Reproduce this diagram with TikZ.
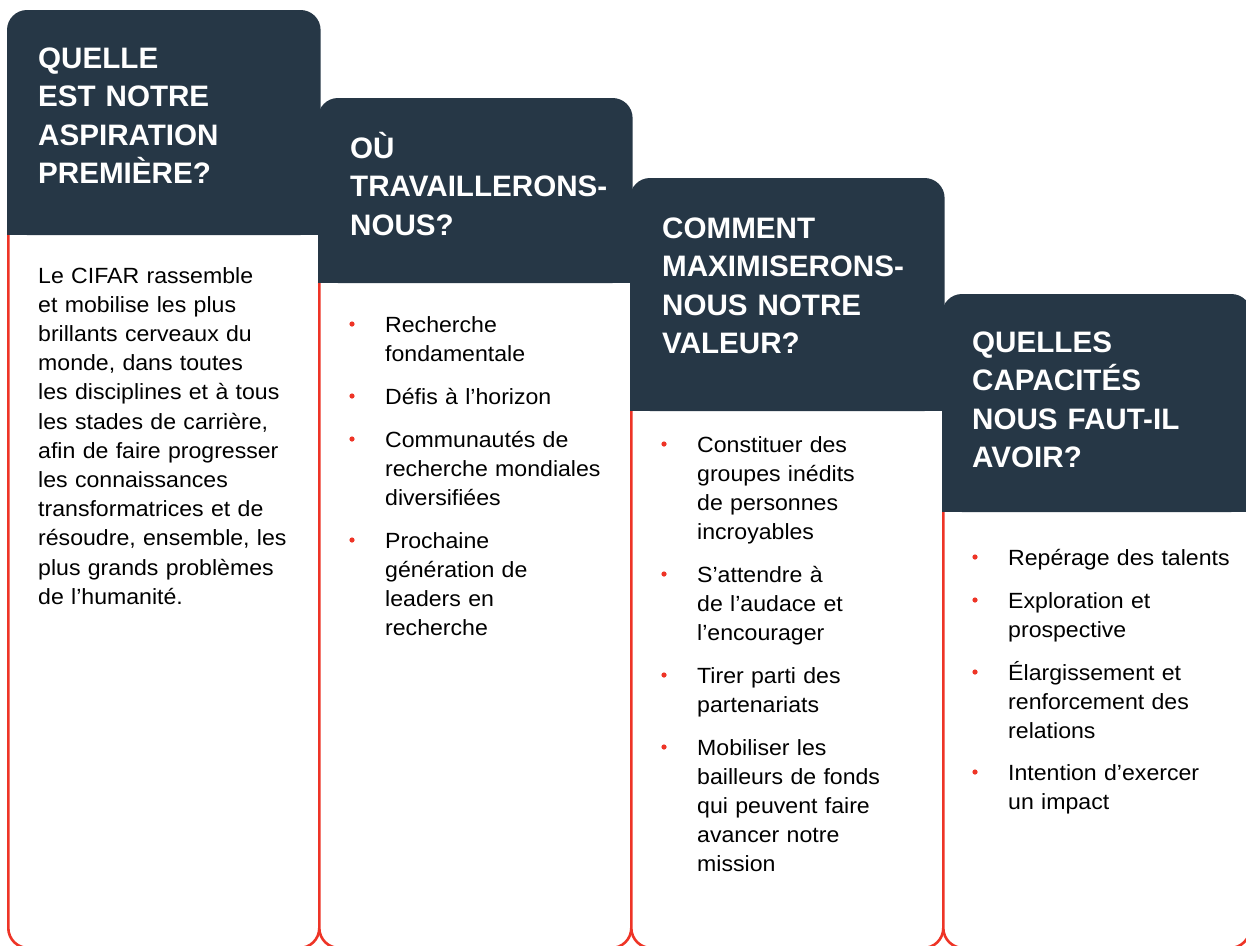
\documentclass[tikz,border=0pt]{standalone}
\usepackage{fontspec}
\setmainfont{Liberation Sans}
\newfontfamily\bodyfont[FakeStretch=1.05]{Liberation Sans}
\definecolor{cifarnavy}{HTML}{263746}
\definecolor{cifarred}{HTML}{EE3426}
\tikzset{
  colbox/.style={draw=cifarred, line width=2.6pt, fill=white, rounded corners=20pt},
  colhead/.style={fill=cifarnavy},
  headtext/.style={anchor=base west, inner sep=0pt, text=white, text width=285pt, align=left,
    font=\fontsize{29.6}{38.6}\selectfont\bfseries},
  bodytext/.style={anchor=base west, inner sep=0pt, text=black, text width=270pt, align=left,
    font=\bodyfont\fontsize{22}{29.2}\selectfont},
}
\begin{document}
\begin{tikzpicture}[x=1pt, y=-1pt]
  \clip (0,0) rectangle (1246,945);
  % four columns, each one lower than the last
  \foreach \n/\l/\r/\t/\h in {1/8.3/319.3/10/235, 2/319.3/631.3/98/283,
                              3/631.3/943.3/178/411, 4/943.3/1250/294/512} {
    \draw[colbox] (\l,\h) -- (\l,948) -- (\r,948) -- (\r,\h);
    \fill[colhead, rounded corners=20pt] (\l-1.3,\t) rectangle (\r+1.3,\h);
    \fill[colhead] (\l-1.3,\h-30) rectangle (\r+1.3,\h);
  };
  % headings
  \node[headtext] (h1) at (38,68) {QUELLE\\EST NOTRE\\ASPIRATION\\PREMIÈRE?};
  \node[headtext] (h2) at (350,158) {OÙ\\TRAVAILLERONS-\\NOUS?};
  \node[headtext] (h3) at (662,238) {COMMENT\\MAXIMISERONS-\\NOUS NOTRE\\VALEUR?};
  \node[headtext] (h4) at (972,352) {QUELLES\\CAPACITÉS\\NOUS FAUT-IL\\AVOIR?};
  % first column: one paragraph
  \node[bodytext] (c1) at (38,283) {Le CIFAR rassemble\\et mobilise les plus\\brillants cerveaux du\\monde, dans toutes\\les disciplines et à tous\\les stades de carrière,\\afin de faire progresser\\les connaissances\\transformatrices et de\\résoudre, ensemble, les\\plus grands problèmes\\de l’humanité.};
  % other columns: bullet lists
  \foreach \y/\txt [count=\k] in {332/{Recherche\\fondamentale}, 404/{Défis à l’horizon},
      447/{Communautés de\\recherche mondiales\\diversifiées},
      548/{Prochaine\\génération de\\leaders en\\recherche}} {
    \node[bodytext] (c2\k) at (385,\y) {\txt};
    \fill[cifarred] ([xshift=-33pt, yshift=8pt]c2\k.base west) circle(2.6pt);
  };
  \foreach \y/\txt [count=\k] in {452/{Constituer des\\groupes inédits\\de personnes\\incroyables},
      582/{S’attendre à\\de l’audace et\\l’encourager}, 683/{Tirer parti des\\partenariats},
      755/{Mobiliser les\\bailleurs de fonds\\qui peuvent faire\\avancer notre\\mission}} {
    \node[bodytext] (c3\k) at (697,\y) {\txt};
    \fill[cifarred] ([xshift=-33pt, yshift=8pt]c3\k.base west) circle(2.6pt);
  };
  \foreach \y/\txt [count=\k] in {565/{Repérage des talents}, 608/{Exploration et\\prospective},
      680/{Élargissement et\\renforcement des\\relations}, 780/{Intention d’exercer\\un impact}} {
    \node[bodytext] (c4\k) at (1008,\y) {\txt};
    \fill[cifarred] ([xshift=-33pt, yshift=8pt]c4\k.base west) circle(2.6pt);
  };
\end{tikzpicture}
\end{document}
